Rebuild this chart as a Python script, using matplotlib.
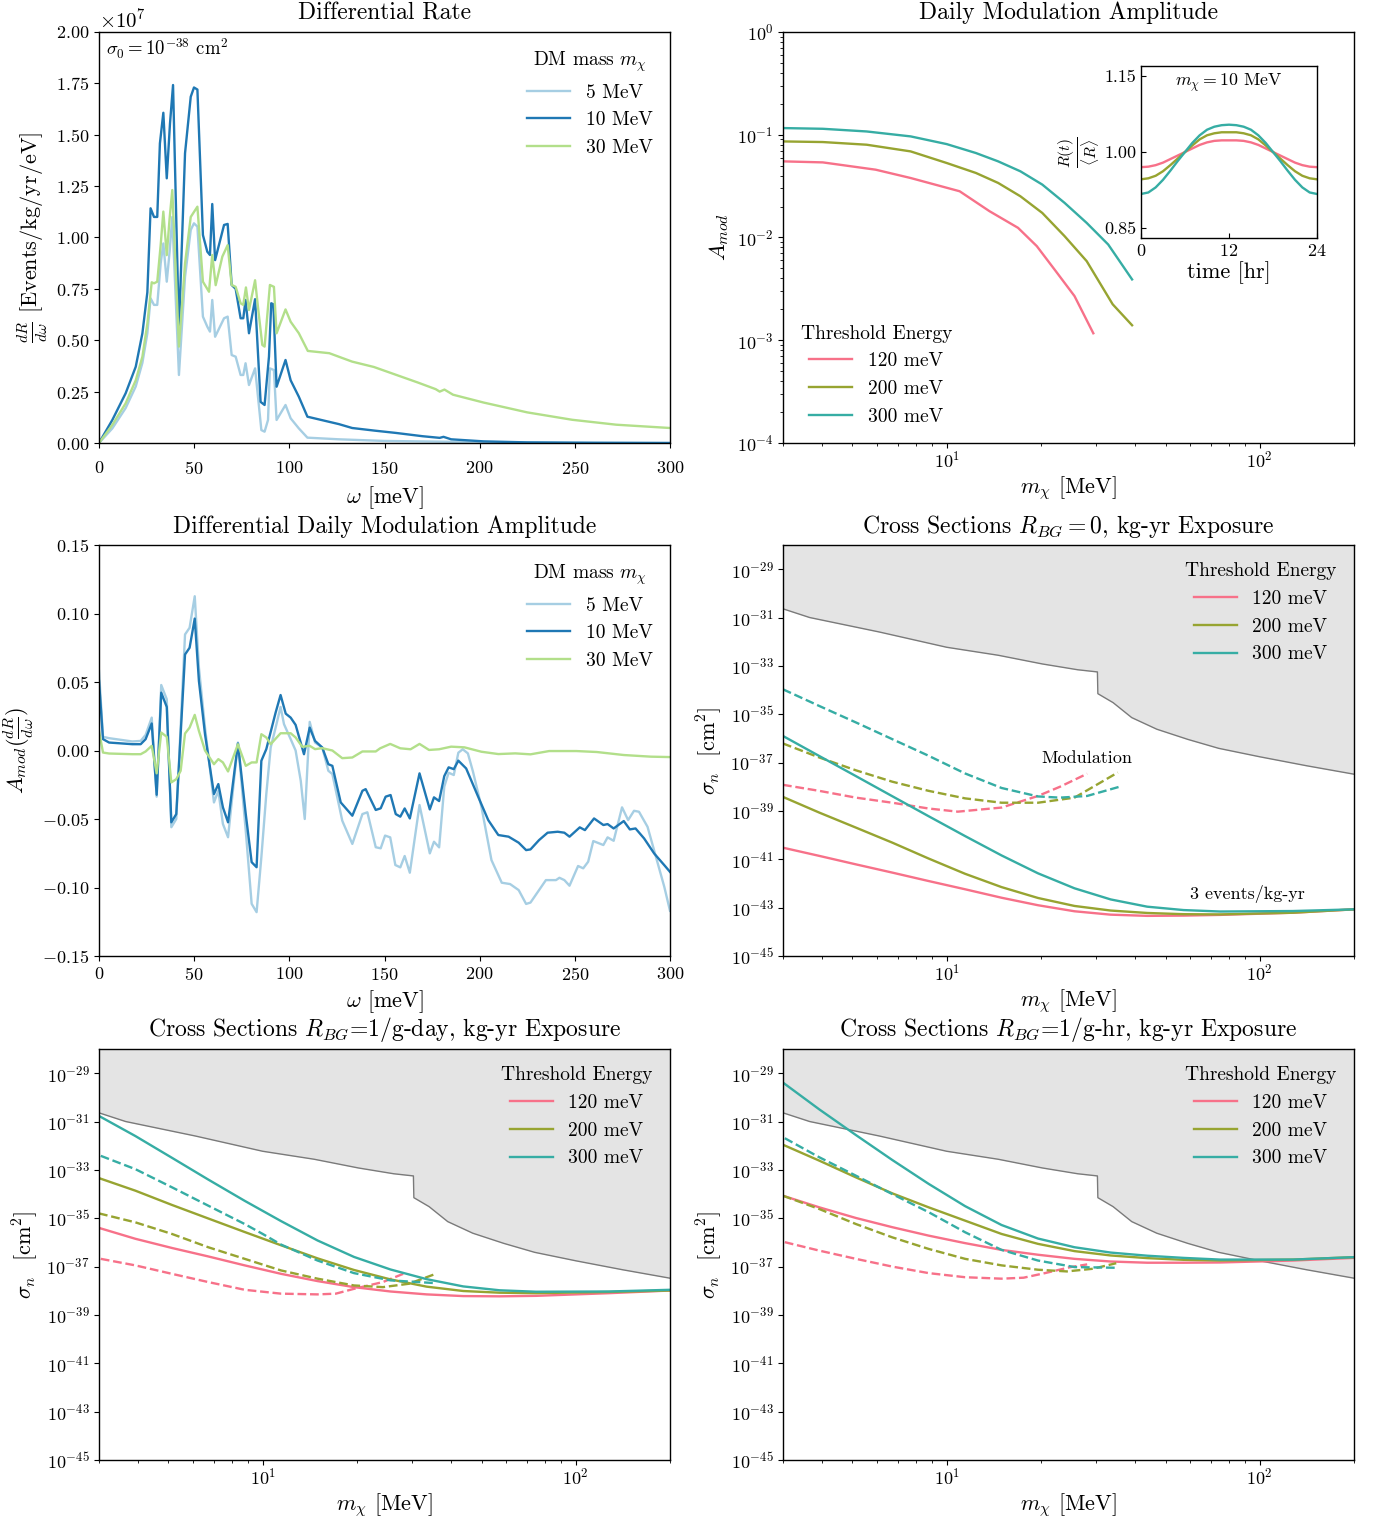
import numpy as np
import matplotlib
matplotlib.use("Agg")
import matplotlib.pyplot as plt

plt.rcParams['font.family'] = 'serif'
plt.rcParams['font.serif'] = ['cmr10', 'DejaVu Serif']
plt.rcParams['mathtext.fontset'] = 'cm'
plt.rcParams['axes.formatter.use_mathtext'] = True
plt.rcParams['axes.unicode_minus'] = True
plt.rcParams['axes.linewidth'] = 1.0
plt.rcParams['lines.linewidth'] = 1.7

# colours
C_5, C_10, C_30 = '#a6cee3', '#1f78b4', '#b2df8a'
C_120, C_200, C_300 = '#f77189', '#97a431', '#36ada4'
FILL_C, EDGE_C = '#e4e4e4', '#7a7a7a'

# ---- Differential rate (units of 1e7 events/kg/yr/eV) ----
w_5 = [0, 7, 14, 19.3, 22.8, 25.4, 27.1, 28.9, 30.6, 32.4, 33.8, 35.6, 37.1, 38.5, 42, 45.2, 48.2, 49.9, 51.7,
       54.6, 56.9, 58.3, 59.5, 61, 65.7, 67.6, 69.7, 71.8, 74.4, 75.8, 77, 78.8, 82, 83.7, 85.3, 87, 88.8, 89.8,
       91.9, 93.3, 98, 100.7, 105, 109.5, 126, 150, 200, 250, 300]
rate_5 = [0, 0.071, 0.17, 0.275, 0.39, 0.534, 0.704, 0.672, 0.672, 0.874, 0.971, 0.785, 0.931, 1.10, 0.331, 0.809,
          1.037, 1.069, 1.053, 0.615, 0.566, 0.542, 0.696, 0.517, 0.607, 0.615, 0.428, 0.42, 0.331, 0.331, 0.388,
          0.282, 0.363, 0.21, 0.063, 0.055, 0.112, 0.363, 0.355, 0.112, 0.185, 0.12, 0.071, 0.026, 0.018, 0.01,
          0.004, 0.001, 0.0]
w_10 = [0, 7, 14, 19.3, 22.8, 25.4, 27.1, 28.9, 30.6, 32.0, 33.8, 35.6, 37.3, 38.9, 42, 45.2, 48.2, 49.9, 51.7,
        54.6, 56.9, 58.3, 59.5, 61, 65.7, 67.6, 69.7, 71.8, 74.4, 75.8, 77, 78.8, 82, 84.9, 87, 89.3, 90.5, 91.6,
        93.3, 98, 100.7, 105, 109.5, 126, 133, 145, 156, 170, 179, 181, 185, 202, 225, 260, 300]
rate_10 = [0, 0.112, 0.242, 0.371, 0.534, 0.733, 1.142, 1.10, 1.10, 1.458, 1.607, 1.288, 1.555, 1.742, 0.55, 1.41,
           1.685, 1.73, 1.72, 1.012, 0.931, 0.915, 1.163, 0.89, 1.061, 1.066, 0.769, 0.75, 0.607, 0.607, 0.696,
           0.534, 0.70, 0.20, 0.185, 0.42, 0.68, 0.675, 0.274, 0.404, 0.305, 0.225, 0.128, 0.092, 0.073, 0.06,
           0.049, 0.033, 0.025, 0.03, 0.018, 0.008, 0.003, 0.001, 0.0]
w_30 = [0, 7, 14, 19.3, 22.8, 25.4, 27.7, 28.9, 30.6, 32.4, 33.8, 35.6, 37.1, 38.5, 42, 45.2, 48.2, 51.7, 54.6,
        57.8, 59.5, 61.3, 64.8, 67.6, 69.7, 71.8, 74.4, 75.8, 77.2, 78.8, 82, 83.7, 85.8, 87, 89.8, 91.9, 93.3,
        98, 100.7, 105, 109.7, 121, 128, 133, 144.4, 156, 167.6, 176.9, 179, 181.5, 186, 202, 225, 248.6,
        271.8, 300]
rate_30 = [0, 0.088, 0.193, 0.305, 0.42, 0.58, 0.782, 0.777, 0.785, 0.963, 1.126, 0.914, 1.093, 1.231, 0.469,
           0.874, 1.10, 1.15, 0.785, 0.736, 0.915, 0.768, 0.907, 0.963, 0.769, 0.76, 0.68, 0.672, 0.757, 0.647,
           0.792, 0.647, 0.477, 0.469, 0.769, 0.76, 0.534, 0.65, 0.59, 0.534, 0.448, 0.437, 0.413, 0.396, 0.37,
           0.332, 0.294, 0.262, 0.25, 0.26, 0.235, 0.197, 0.149, 0.113, 0.089, 0.073]

# ---- Differential daily modulation amplitude ----
wm_5 = [0, 2.1, 5.3, 17.5, 21.9, 24.5, 27.7, 30.3, 32.7, 35.6, 38, 40.6, 45.2, 47.6, 50.3, 52.5, 55.7, 60.4,
        62.7, 65.1, 67.8, 73, 77.1, 80.2, 82.8, 85.3, 87.9, 90.2, 92.8, 95.4, 97.2, 100.7, 103.3, 106, 108.1,
        110.7, 113.5, 117.3, 120.5, 122.6, 127.8, 133.1, 138.4, 141, 145.4, 148, 150.3, 153, 155.7, 158.3,
        160.6, 163.3, 168.4, 173.8, 176, 178.7, 181.4, 183.7, 186.4, 188.8, 191.1, 193.8, 196.5, 200.9, 206.2,
        211.6, 216, 220.5, 224.4, 226.7, 231.2, 234.8, 240.1, 241.9, 244.5, 247.2, 251.7, 254.4, 257, 259.7,
        265, 267.2, 270.4, 274.8, 278, 281.1, 283.7, 288.2, 292.6, 297, 300]
amod_5 = [0.058, 0.01, 0.009, 0.0066, 0.007, 0.0114, 0.024, -0.0337, 0.0478, 0.0374, -0.056, -0.05, 0.0847,
          0.0896, 0.1126, 0.0604, 0.0167, -0.0379, -0.0294, -0.0536, -0.0633, 0.0058, -0.0585, -0.1119, -0.118,
          -0.0779, -0.0318, 0.0022, 0.0167, 0.0318, 0.0192, 0.0083, 0.0, -0.0221, -0.05, 0.0209, 0.0058,
          0.0022, -0.0148, -0.0172, -0.0512, -0.0682, -0.0464, -0.0451, -0.0706, -0.0714, -0.0621, -0.0634,
          -0.0836, -0.0853, -0.077, -0.0892, -0.0398, -0.0751, -0.0666, -0.0707, -0.0264, -0.0162, -0.0179,
          -0.0016, 0.0009, -0.0021, -0.0155, -0.041, -0.08, -0.0965, -0.0975, -0.1019, -0.112, -0.111, -0.1019,
          -0.0946, -0.0946, -0.0929, -0.0946, -0.0987, -0.0843, -0.086, -0.0812, -0.0661, -0.069, -0.0634,
          -0.0659, -0.0415, -0.0508, -0.044, -0.0447, -0.0557, -0.0776, -0.0995, -0.117]
wm_10 = [0, 2.1, 5.3, 10.5, 17.5, 21.9, 24.5, 27.7, 30.3, 32.7, 35.6, 38, 40.6, 45.2, 47.6, 50.3, 52.5, 55.7,
         60.4, 62.7, 65.1, 67.8, 73, 77.1, 80.2, 82.8, 85.3, 87.9, 92.8, 95.4, 98.1, 100.7, 103.3, 107.7, 110.7,
         113.5, 117.3, 120.5, 122.6, 127, 133.1, 138.4, 140.1, 145.4, 148, 150.6, 153.2, 155.9, 158.3, 160.6,
         163.3, 168.4, 173.8, 176, 178.7, 181.4, 183.7, 186.4, 188.8, 192.9, 199.2, 204.5, 209.8, 215.2, 220.5,
         224.4, 226.7, 231.2, 235.7, 241, 244.5, 247.2, 252.6, 255.3, 260.1, 265, 267.2, 270.4, 275.7, 278.9,
         281.9, 286.4, 291.7, 297, 300]
amod_10 = [0.0507, 0.0083, 0.0058, 0.0053, 0.0046, 0.0046, 0.0083, 0.0197, -0.0323, 0.0422, 0.0318, -0.0524,
           -0.0464, 0.0701, 0.075, 0.0963, 0.0507, 0.0119, -0.0318, -0.0245, -0.0415, -0.0524, 0.0051, -0.0464,
           -0.0815, -0.0852, -0.0075, 0.001, 0.0277, 0.0405, 0.0269, 0.024, 0.0187, -0.0027, 0.0167, 0.007,
           0.0022, -0.01, -0.0112, -0.0379, -0.0476, -0.0294, -0.0282, -0.0434, -0.0422, -0.0337, -0.0325,
           -0.0464, -0.0483, -0.0423, -0.0496, -0.0167, -0.043, -0.0342, -0.0369, -0.0187, -0.0123, -0.0136,
           -0.0074, -0.0131, -0.0337, -0.0508, -0.0617, -0.0629, -0.0673, -0.0727, -0.0722, -0.0654, -0.06,
           -0.0593, -0.06, -0.0629, -0.0561, -0.0581, -0.0496, -0.0544, -0.0537, -0.0569, -0.0515, -0.0576,
           -0.0569, -0.0642, -0.0752, -0.0837, -0.0886]
wm_30 = [0, 2.1, 5.3, 17.5, 21.9, 24.5, 27.7, 30.3, 32.7, 35.6, 38, 40.6, 42.9, 45.2, 47.6, 50.3, 52.5, 55.7,
         60.4, 62.7, 65.1, 67.8, 73, 77.1, 80.2, 82.8, 85.3, 87.9, 90.2, 95.4, 100.7, 103.3, 106.8, 110.7, 113.5,
         117.3, 122.6, 127.8, 133.1, 138.4, 145.4, 147.7, 153, 158.3, 163.7, 168.4, 173.4, 178.7, 185, 192,
         200.9, 209.8, 218.7, 226.7, 236.5, 250.8, 261.5, 275.7, 289.9, 300]
amod_30 = [0.0143, -0.0015, -0.0022, -0.0027, -0.0027, -0.0007, 0.0034, -0.0167, 0.0131, 0.01, -0.0233, -0.0209,
           -0.0148, 0.0124, 0.0167, 0.026, 0.0143, 0.0, -0.01, -0.0063, -0.0087, -0.0153, 0.0046, -0.0112,
           -0.0087, -0.0087, 0.0119, 0.0095, 0.0046, 0.0126, 0.0126, 0.0095, 0.0027, 0.0034, 0.001, 0.0017, 0.0,
           -0.0056, -0.0051, -0.0007, -0.0007, 0.0016, 0.0048, 0.0016, 0.0009, 0.0048, 0.0004, 0.0009, 0.0028,
           0.0023, -0.0009, -0.0026, -0.0021, -0.0028, -0.0004, -0.0004, -0.0011, -0.0033, -0.0045, -0.0048]

# ---- Daily modulation amplitude vs mass (log10 A_mod) ----
m_amod_300 = [3.0, 4.02, 5.55, 7.67, 10.0, 12.4, 14.6, 17.2, 20.2, 23.8, 28.0, 32.8, 39.1]
log_amod_300 = [-0.935, -0.942, -0.968, -1.016, -1.091, -1.178, -1.259, -1.356, -1.485, -1.663, -1.858, -2.068,
                -2.408]
m_amod_200 = [3.0, 4.02, 5.55, 7.67, 10.0, 12.4, 14.6, 17.2, 20.2, 23.8, 28.0, 33.9, 39.1]
log_amod_200 = [-1.065, -1.071, -1.097, -1.162, -1.275, -1.372, -1.469, -1.599, -1.761, -1.987, -2.23, -2.65,
                -2.854]
m_amod_120 = [3.0, 4.02, 5.93, 7.67, 11.0, 13.7, 16.9, 19.4, 22.3, 25.6, 29.4]
log_amod_120 = [-1.259, -1.269, -1.34, -1.421, -1.55, -1.744, -1.906, -2.084, -2.327, -2.57, -2.932]

# inset: R(t)/<R> for m_chi = 10 MeV
t_hr = list(range(25))
rt_120 = [0.970, 0.971, 0.974, 0.979, 0.986, 0.993, 1.000, 1.007, 1.014, 1.019, 1.022, 1.023, 1.023,
          1.023, 1.022, 1.019, 1.014, 1.007, 1.000, 0.993, 0.986, 0.979, 0.974, 0.971, 0.970]
rt_200 = [0.946, 0.948, 0.953, 0.962, 0.974, 0.987, 1.000, 1.013, 1.025, 1.033, 1.037, 1.039, 1.039,
          1.039, 1.037, 1.033, 1.025, 1.013, 1.000, 0.987, 0.974, 0.962, 0.953, 0.948, 0.946]
rt_300 = [0.917, 0.920, 0.930, 0.945, 0.963, 0.982, 1.000, 1.018, 1.033, 1.044, 1.050, 1.053, 1.054,
          1.053, 1.050, 1.044, 1.033, 1.018, 1.000, 0.982, 0.963, 0.945, 0.930, 0.920, 0.917]

# ---- existing constraint (shaded region), log10 sigma ----
m_excl = [3.0, 3.65, 6.1, 10.0, 14.6, 20.2, 26.2, 30.3, 30.4, 34.0, 39.0, 46.9, 58.9, 73.9, 100, 141, 200]
log_excl = [-30.64, -31.0, -31.6, -32.23, -32.56, -32.92, -33.16, -33.25, -34.15, -34.52, -35.14, -35.62,
            -36.04, -36.41, -36.76, -37.13, -37.48]

# ---- cross-section reach curves, log10 sigma ----
m_solid = [3.0, 3.92, 5.13, 6.70, 8.76, 11.45, 14.97, 19.57, 25.6, 33.4, 43.7, 57.1, 74.7, 127.7, 200]

# R_BG = 0
bg0_solid = {
    120: [-40.52, -40.86, -41.21, -41.55, -41.9, -42.24, -42.59, -42.9, -43.15, -43.29, -43.34, -43.33, -43.30,
          -43.21, -43.07],
    200: [-38.42, -39.07, -39.69, -40.31, -40.97, -41.6, -42.15, -42.6, -42.93, -43.12, -43.22, -43.27, -43.28,
          -43.21, -43.07],
    300: [-35.90, -36.73, -37.56, -38.39, -39.22, -40.04, -40.84, -41.58, -42.2, -42.66, -42.96, -43.1, -43.16,
          -43.14, -43.07],
}
bg0_dash_m = {
    120: [3.0, 3.92, 5.13, 6.70, 8.76, 10.85, 14.97, 19.57, 23.0, 28.1],
    200: [3.0, 3.92, 5.13, 6.70, 8.76, 11.45, 14.97, 19.57, 25.6, 35.2],
    300: [3.0, 3.92, 5.13, 6.70, 8.76, 11.45, 14.97, 19.57, 23.0, 28.1, 36.3],
}
bg0_dash = {
    120: [-37.92, -38.17, -38.45, -38.66, -38.9, -39.03, -38.86, -38.38, -38.0, -37.46],
    200: [-36.21, -36.79, -37.32, -37.79, -38.17, -38.48, -38.66, -38.66, -38.45, -37.41],
    300: [-33.97, -34.66, -35.34, -36.03, -36.72, -37.45, -38.05, -38.40, -38.45, -38.38, -37.97],
}

# R_BG = 1/g-day
day_solid = {
    120: [-35.40, -35.85, -36.23, -36.58, -36.95, -37.30, -37.60, -37.85, -38.03, -38.15, -38.22, -38.23, -38.21,
          -38.10, -37.99],
    200: [-33.34, -33.86, -34.45, -35.01, -35.57, -36.12, -36.66, -37.14, -37.53, -37.83, -38.01, -38.08, -38.10,
          -38.05, -37.99],
    300: [-30.77, -31.60, -32.50, -33.40, -34.28, -35.12, -35.92, -36.60, -37.12, -37.52, -37.82, -37.98, -38.04,
          -38.03, -37.96],
}
day_dash_m = {
    120: [3.04, 3.92, 5.13, 6.70, 8.76, 11.45, 14.97, 17.12, 19.57, 24.2, 28.1],
    200: [3.0, 3.92, 5.13, 6.70, 8.76, 11.45, 14.97, 19.57, 24.2, 29.3, 35.7],
    300: [3.04, 3.92, 5.13, 6.70, 8.76, 10.0, 11.45, 14.97, 19.57, 25.6, 35.2],
}
day_dash = {
    120: [-36.68, -36.95, -37.3, -37.64, -37.96, -38.12, -38.15, -38.12, -37.92, -37.64, -37.3],
    200: [-34.8, -35.17, -35.65, -36.2, -36.68, -37.16, -37.5, -37.78, -37.85, -37.71, -37.3],
    300: [-32.42, -32.97, -33.72, -34.48, -35.24, -35.65, -36.09, -36.75, -37.27, -37.57, -37.68],
}

# R_BG = 1/g-hr
hr_solid = {
    120: [-34.07, -34.55, -34.99, -35.37, -35.72, -36.03, -36.31, -36.51, -36.68, -36.79, -36.84, -36.84, -36.83,
          -36.75, -36.64],
    200: [-31.96, -32.62, -33.31, -33.97, -34.55, -35.10, -35.65, -36.06, -36.36, -36.54, -36.65, -36.72, -36.75,
          -36.71, -36.61],
    300: [-29.39, -30.50, -31.56, -32.59, -33.58, -34.50, -35.28, -35.84, -36.20, -36.42, -36.55, -36.64, -36.71,
          -36.71, -36.61],
}
hr_dash_m = {
    120: [3.04, 3.92, 5.13, 6.70, 8.76, 11.45, 14.97, 17.6, 20.6, 24.9, 28.1],
    200: [3.0, 3.92, 5.13, 6.70, 8.76, 11.45, 14.97, 19.57, 24.2, 29.3, 34.8],
    300: [3.04, 3.92, 5.13, 6.70, 8.76, 11.45, 14.97, 19.57, 25.6, 35.2],
}
hr_dash = {
    120: [-35.99, -36.34, -36.68, -37.0, -37.27, -37.44, -37.5, -37.46, -37.27, -37.02, -36.91],
    200: [-34.07, -34.62, -35.24, -35.79, -36.27, -36.68, -36.95, -37.13, -37.2, -37.09, -36.86],
    300: [-31.69, -32.48, -33.24, -34.0, -34.75, -35.58, -36.31, -36.75, -37.02, -37.05],
}

thresholds = [120, 200, 300]
thr_colors = {120: C_120, 200: C_200, 300: C_300}

TICK_FS = 13
LABEL_FS = 16
TITLE_FS = 17
LEG_FS = 14
LEG_SP = 0.5

fig = plt.figure(figsize=(13.8, 15.19), dpi=100)

xl, xr = 99 / 1380, 783 / 1380
w = 571 / 1380
h_row = 411 / 1519
rows_b = [1 - 443 / 1519, 1 - 956 / 1519, 1 - 1460 / 1519]

ax1 = fig.add_axes([xl, rows_b[0], w, h_row])
ax2 = fig.add_axes([xr, rows_b[0], w, h_row])
ax3 = fig.add_axes([xl, rows_b[1], w, h_row])
ax4 = fig.add_axes([xr, rows_b[1], w, h_row])
ax5 = fig.add_axes([xl, rows_b[2], w, h_row])
ax6 = fig.add_axes([xr, rows_b[2], w, h_row])

for ax in [ax1, ax2, ax3, ax4, ax5, ax6]:
    ax.tick_params(labelsize=TICK_FS)


def mass_legend(ax):
    return ax.legend(loc='upper right', frameon=False, fontsize=LEG_FS, title=r'DM mass $m_\chi$',
                     title_fontsize=LEG_FS, handlelength=2.2, labelspacing=LEG_SP)


# panel 1
ax1.plot(w_5, np.array(rate_5) * 1e7, color=C_5, label='5 MeV')
ax1.plot(w_10, np.array(rate_10) * 1e7, color=C_10, label='10 MeV')
ax1.plot(w_30, np.array(rate_30) * 1e7, color=C_30, label='30 MeV')
ax1.set_xlim(0, 300)
ax1.set_ylim(0, 2e7)
ax1.set_yticks(np.arange(0, 2.01e7, 0.25e7))
ax1.tick_params(axis='x', pad=9)
ax1.yaxis.get_offset_text().set_fontsize(15)
ax1.set_title('Differential Rate', fontsize=TITLE_FS, pad=9)
ax1.set_xlabel(r'$\omega$ [meV]', fontsize=LABEL_FS, labelpad=5)
ax1.set_ylabel(r'$\frac{dR}{d\omega}$ [Events/kg/yr/eV]', fontsize=LABEL_FS)
ax1.text(0.012, 0.958, r'$\sigma_0 = 10^{-38}$ cm$^2$', transform=ax1.transAxes, fontsize=13.5,
         ha='left', va='center')
mass_legend(ax1)

# panel 2
ax2.plot(m_amod_120, 10.0 ** np.array(log_amod_120), color=C_120, label='120 meV')
ax2.plot(m_amod_200, 10.0 ** np.array(log_amod_200), color=C_200, label='200 meV')
ax2.plot(m_amod_300, 10.0 ** np.array(log_amod_300), color=C_300, label='300 meV')
ax2.set_xscale('log')
ax2.set_yscale('log')
ax2.set_xlim(3, 200)
ax2.set_ylim(1e-4, 1)
ax2.tick_params(axis='x', pad=1)
ax2.set_title('Daily Modulation Amplitude', fontsize=TITLE_FS, pad=9)
ax2.set_xlabel(r'$m_\chi$ [MeV]', fontsize=LABEL_FS, labelpad=3)
ax2.set_ylabel(r'$A_{mod}$', fontsize=LABEL_FS)
ax2.legend(loc='lower left', frameon=False, fontsize=LEG_FS, title='Threshold Energy', title_fontsize=LEG_FS,
           handlelength=2.2, labelspacing=LEG_SP)

axin = fig.add_axes([1141 / 1380, 1 - 238 / 1519, 176 / 1380, 172 / 1519])
axin.plot(t_hr, rt_120, color=C_120)
axin.plot(t_hr, rt_200, color=C_200)
axin.plot(t_hr, rt_300, color=C_300)
axin.set_xlim(0, 24)
axin.set_ylim(0.83, 1.17)
axin.set_xticks([0, 12, 24])
axin.set_yticks([0.85, 1.00, 1.15])
axin.set_yticklabels(['0.85', '1.00', '1.15'])
axin.tick_params(labelsize=TICK_FS, direction='in')
axin.set_xlabel('time [hr]', fontsize=LABEL_FS, labelpad=2)
axin.set_ylabel(r'$\frac{R(t)}{\langle R\rangle}$', fontsize=LABEL_FS, labelpad=2)
axin.text(0.5, 0.9, r'$m_\chi = 10$ MeV', transform=axin.transAxes, ha='center', va='center', fontsize=12.8)

# panel 3
ax3.plot(wm_5, amod_5, color=C_5, label='5 MeV')
ax3.plot(wm_10, amod_10, color=C_10, label='10 MeV')
ax3.plot(wm_30, amod_30, color=C_30, label='30 MeV')
ax3.set_xlim(0, 300)
ax3.set_ylim(-0.15, 0.15)
ax3.set_yticks(np.arange(-0.15, 0.151, 0.05))
ax3.set_title('Differential Daily Modulation Amplitude', fontsize=TITLE_FS, pad=9)
ax3.set_xlabel(r'$\omega$ [meV]', fontsize=LABEL_FS)
ax3.set_ylabel(r'$A_{mod}(\frac{dR}{d\omega})$', fontsize=LABEL_FS)
mass_legend(ax3)


def cross_panel(ax, solid, dash_m, dash, title):
    excl = 10.0 ** np.array(log_excl)
    ax.fill_between(m_excl, excl, 1e-28, color=FILL_C, lw=0)
    ax.plot(m_excl, excl, color=EDGE_C, lw=1.0)
    for thr in thresholds:
        ax.plot(m_solid, 10.0 ** np.array(solid[thr]), color=thr_colors[thr], label=f'{thr} meV')
        ax.plot(dash_m[thr], 10.0 ** np.array(dash[thr]), color=thr_colors[thr], ls='--')
    ax.set_xscale('log')
    ax.set_yscale('log')
    ax.set_xlim(3, 200)
    ax.set_ylim(1e-45, 1e-28)
    ax.set_yticks([10.0 ** e for e in range(-45, -28, 2)])
    ax.yaxis.set_minor_locator(matplotlib.ticker.NullLocator())
    ax.tick_params(axis='x', pad=1)
    ax.set_title(title, fontsize=TITLE_FS, pad=9)
    ax.set_xlabel(r'$m_\chi$ [MeV]', fontsize=LABEL_FS, labelpad=3)
    ax.set_ylabel(r'$\sigma_n$  [cm$^2$]', fontsize=LABEL_FS)
    ax.legend(loc='upper right', frameon=False, fontsize=LEG_FS, title='Threshold Energy',
              title_fontsize=LEG_FS, handlelength=2.2, labelspacing=LEG_SP)


cross_panel(ax4, bg0_solid, bg0_dash_m, bg0_dash, r'Cross Sections $R_{BG} = 0$, kg-yr Exposure')
ax4.text(0.533, 0.482, 'Modulation', transform=ax4.transAxes, ha='center', va='center', fontsize=13)
ax4.text(0.814, 0.151, '3 events/kg-yr', transform=ax4.transAxes, ha='center', va='center', fontsize=13)
cross_panel(ax5, day_solid, day_dash_m, day_dash, r'Cross Sections $R_{BG}$=1/g-day, kg-yr Exposure')
cross_panel(ax6, hr_solid, hr_dash_m, hr_dash, r'Cross Sections $R_{BG}$=1/g-hr, kg-yr Exposure')

fig.savefig('out.png', dpi=100)
